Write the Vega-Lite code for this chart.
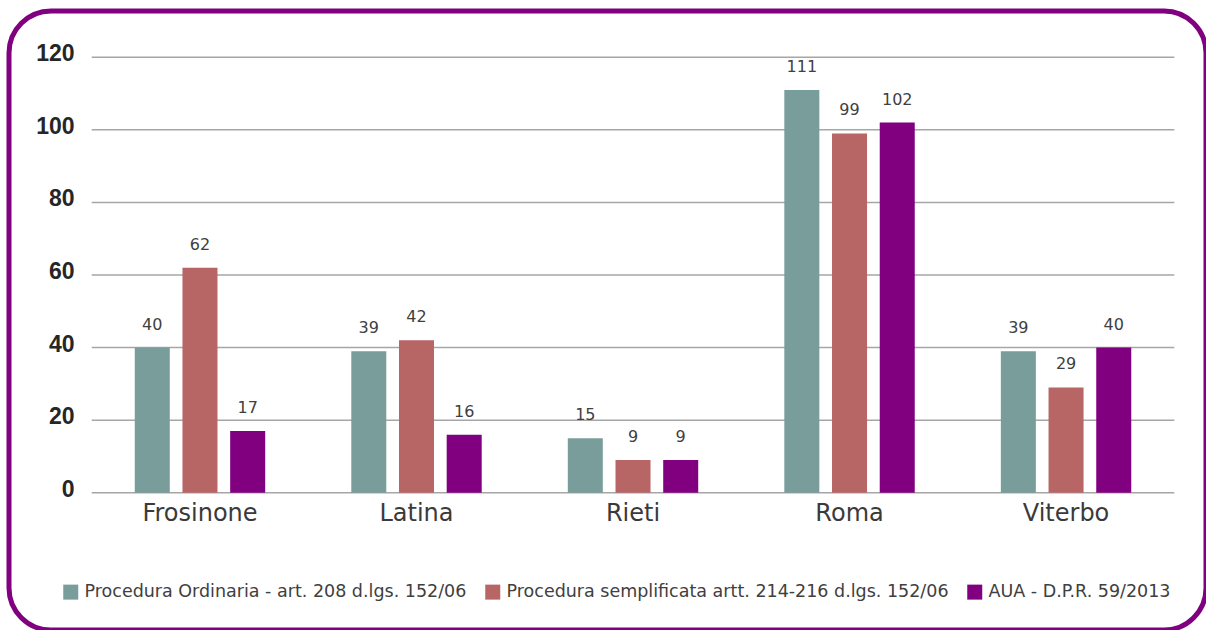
{
  "$schema": "https://vega.github.io/schema/vega-lite/v6.json",
  "width": 1197,
  "height": 619,
  "autosize": "none",
  "padding": {"left": 9, "top": 11, "right": 0, "bottom": 0},
  "background": "white",
  "config": {
    "view": {"stroke": "#800080", "strokeWidth": 5, "cornerRadius": 42, "fill": "white"},
    "font": "DejaVu Sans",
    "axisX": {"orient": "bottom", "offset": -137.3, "domain": false, "ticks": false, "grid": false, "labelPadding": 9,
              "labelFont": "DejaVu Sans", "labelFontSize": 24, "labelColor": "#3a3a3a", "labelAngle": 0, "title": null},
    "axisY": {"orient": "left", "offset": -67, "grid": false, "domain": false, "ticks": false, "labelOffset": -3.5,
              "labelPadding": 2, "labelFont": "Liberation Sans", "labelFontWeight": "bold", "labelFontSize": 23, "labelColor": "#262626", "title": null}
  },
  "datasets": {
    "bars": [
      {"provincia": "Frosinone", "serie": "Procedura Ordinaria - art. 208 d.lgs. 152/06", "n": 40},
      {"provincia": "Frosinone", "serie": "Procedura semplificata artt. 214-216 d.lgs. 152/06", "n": 62},
      {"provincia": "Frosinone", "serie": "AUA - D.P.R. 59/2013", "n": 17},
      {"provincia": "Latina", "serie": "Procedura Ordinaria - art. 208 d.lgs. 152/06", "n": 39},
      {"provincia": "Latina", "serie": "Procedura semplificata artt. 214-216 d.lgs. 152/06", "n": 42},
      {"provincia": "Latina", "serie": "AUA - D.P.R. 59/2013", "n": 16},
      {"provincia": "Rieti", "serie": "Procedura Ordinaria - art. 208 d.lgs. 152/06", "n": 15},
      {"provincia": "Rieti", "serie": "Procedura semplificata artt. 214-216 d.lgs. 152/06", "n": 9},
      {"provincia": "Rieti", "serie": "AUA - D.P.R. 59/2013", "n": 9},
      {"provincia": "Roma", "serie": "Procedura Ordinaria - art. 208 d.lgs. 152/06", "n": 111},
      {"provincia": "Roma", "serie": "Procedura semplificata artt. 214-216 d.lgs. 152/06", "n": 99},
      {"provincia": "Roma", "serie": "AUA - D.P.R. 59/2013", "n": 102},
      {"provincia": "Viterbo", "serie": "Procedura Ordinaria - art. 208 d.lgs. 152/06", "n": 39},
      {"provincia": "Viterbo", "serie": "Procedura semplificata artt. 214-216 d.lgs. 152/06", "n": 29},
      {"provincia": "Viterbo", "serie": "AUA - D.P.R. 59/2013", "n": 40}
    ],
    "grid": [
      {"v": 0, "a": "Frosinone", "b": "Viterbo"},
      {"v": 20, "a": "Frosinone", "b": "Viterbo"},
      {"v": 40, "a": "Frosinone", "b": "Viterbo"},
      {"v": 60, "a": "Frosinone", "b": "Viterbo"},
      {"v": 80, "a": "Frosinone", "b": "Viterbo"},
      {"v": 100, "a": "Frosinone", "b": "Viterbo"},
      {"v": 120, "a": "Frosinone", "b": "Viterbo"}
    ]
  },
  "layer": [
    {
      "data": {"name": "grid"},
      "mark": {"type": "rule", "color": "#a6a6a6", "strokeWidth": 1.5},
      "encoding": {
        "y": {"field": "v", "type": "quantitative", "title": null,
              "axis": {"values": [0, 20, 40, 60, 80, 100, 120]},
              "scale": {"domain": [-37.84, 132.76], "nice": false, "zero": false}},
        "x": {"field": "a", "type": "nominal", "bandPosition": 0, "title": null,
              "scale": {"domain": ["Frosinone", "Latina", "Rieti", "Roma", "Viterbo"], "paddingInner": 0, "paddingOuter": 0.2642, "align": 0.723}},
        "x2": {"field": "b", "bandPosition": 1}
      }
    },
    {
      "data": {"name": "bars"},
      "mark": {"type": "bar"},
      "encoding": {
        "x": {"field": "provincia", "type": "nominal", "sort": null, "title": null,
              "scale": {"domain": ["Frosinone", "Latina", "Rieti", "Roma", "Viterbo"], "paddingInner": 0, "paddingOuter": 0.2642, "align": 0.723}},
        "xOffset": {"field": "serie", "type": "nominal", "sort": null,
                    "scale": {"domain": ["Procedura Ordinaria - art. 208 d.lgs. 152/06", "Procedura semplificata artt. 214-216 d.lgs. 152/06", "AUA - D.P.R. 59/2013"], "paddingInner": 0.266, "paddingOuter": 0.9025}},
        "y": {"field": "n", "type": "quantitative", "title": null,
              "axis": {"values": [0, 20, 40, 60, 80, 100, 120]},
              "scale": {"domain": [-37.84, 132.76], "nice": false, "zero": false}},
        "color": {"field": "serie", "type": "nominal", "sort": null,
                  "scale": {"domain": ["Procedura Ordinaria - art. 208 d.lgs. 152/06", "Procedura semplificata artt. 214-216 d.lgs. 152/06", "AUA - D.P.R. 59/2013"],
                            "range": ["#789d9b", "#b86566", "#800080"]},
                  "legend": {"orient": "none", "legendX": 53, "legendY": 572, "direction": "horizontal", "title": null,
                             "symbolType": "square", "symbolSize": 225, "symbolStrokeWidth": 0, "symbolOpacity": 1,
                             "labelFont": "DejaVu Sans", "labelFontSize": 17.5, "labelColor": "#404040", "labelLimit": 700,
                             "columnPadding": 17, "labelOffset": 5, "padding": 0}}
      }
    },
    {
      "data": {"name": "bars"},
      "mark": {"type": "text", "baseline": "alphabetic", "dy": -18, "fontSize": 16, "font": "DejaVu Sans", "color": "#404040"},
      "encoding": {
        "x": {"field": "provincia", "type": "nominal", "sort": null, "title": null,
              "scale": {"domain": ["Frosinone", "Latina", "Rieti", "Roma", "Viterbo"], "paddingInner": 0, "paddingOuter": 0.2642, "align": 0.723}},
        "xOffset": {"field": "serie", "type": "nominal", "sort": null,
                    "scale": {"domain": ["Procedura Ordinaria - art. 208 d.lgs. 152/06", "Procedura semplificata artt. 214-216 d.lgs. 152/06", "AUA - D.P.R. 59/2013"], "paddingInner": 0.266, "paddingOuter": 0.9025}},
        "y": {"field": "n", "type": "quantitative", "title": null,
              "axis": {"values": [0, 20, 40, 60, 80, 100, 120]},
              "scale": {"domain": [-37.84, 132.76], "nice": false, "zero": false}},
        "text": {"field": "n", "type": "quantitative"}
      }
    }
  ]
}
